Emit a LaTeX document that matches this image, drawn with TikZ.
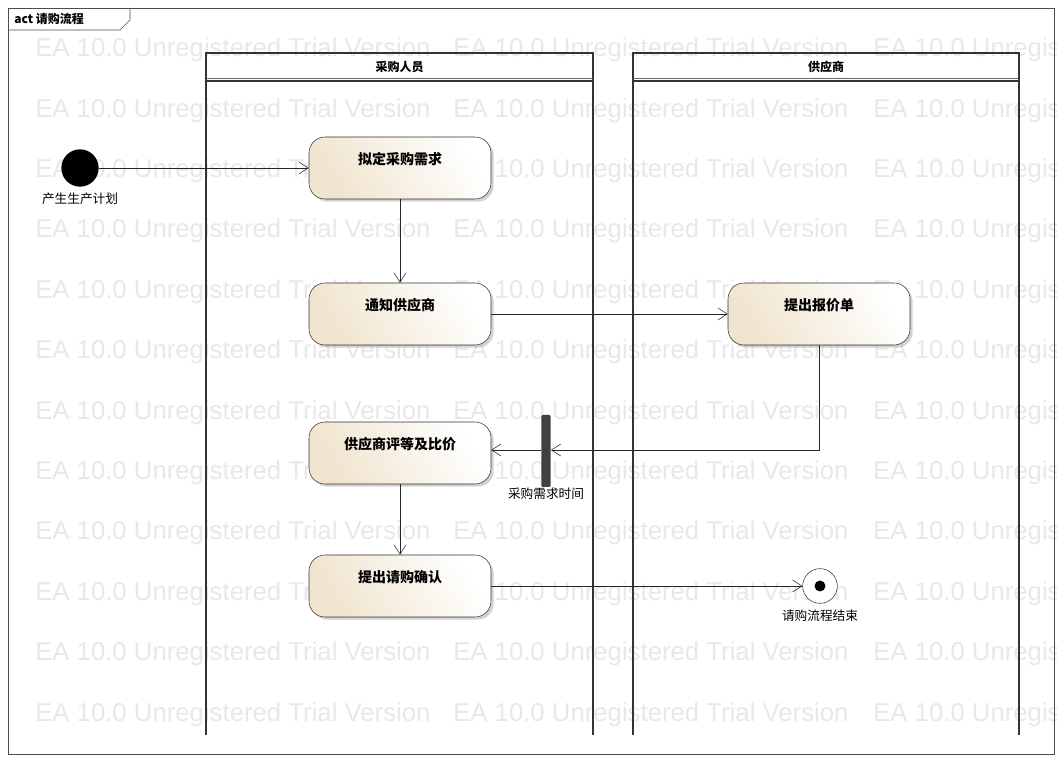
\documentclass[tikz,border=0pt]{standalone}
\usepackage{fontspec}
\setmainfont{Liberation Sans}
\newfontfamily\cjk{Noto Sans CJK SC}
\usetikzlibrary{arrows.meta,shadows}
\definecolor{actfill}{RGB}{240,228,206}
\definecolor{wm}{RGB}{232,232,232}
\tikzset{
 act/.style={draw=black!80,rounded corners=12pt,minimum width=136.5pt,minimum height=46.5pt,
   top color=white,bottom color=actfill,shading angle=-60,
   drop shadow={shadow xshift=2pt,shadow yshift=-2pt,fill=black!35},
   font=\cjk\bfseries\fontsize{10.5}{12}\selectfont,text depth=14pt},
 flow/.style={draw=black!85,-{Straight Barb[length=7pt,width=9pt]}},
 lbl/.style={font=\cjk\fontsize{9.5}{11}\selectfont},
 wmk/.style={text=wm,font=\fontsize{19.3}{19}\selectfont,anchor=west,inner sep=0}
}
\begin{document}
\begin{tikzpicture}[x=0.75pt,y=-0.75pt]
\useasboundingbox (0,0) rectangle (1061,762);
\fill[white] (0,0) rectangle (1061,762);
% watermark
\begin{scope}
\clip (0,0) rectangle (1056,762);
\foreach \r in {0,...,11}{
 \foreach \c in {35,453,873}{
  \node[wmk] at (\c,{50+60.4*\r}) {EA 10.0 Unregistered Trial Version};
 }}
\end{scope}
% frame
\draw[black!70] (8,8) rectangle (1054,754);
\draw[black!70] (8,30) -- (120,30) -- (130,20) -- (130,8);
\node[anchor=west,font=\cjk\bfseries\small,inner sep=0] at (14,19) {act 请购流程};
% lanes
\foreach \a/\b/\t in {206/593/采购人员,633/1019/供应商}{
 \draw[black!80,line width=1.2pt] (\a,735) -- (\a,53) -- (\b,53) -- (\b,735);
 \draw[black!80,line width=1.2pt] (\a,81) -- (\b,81);
 \draw[black!60] (\a,78) -- (\b,78);
 \node[font=\cjk\bfseries\small] at ({(\a+\b)/2},67) {\t};
}
% nodes
\node[circle,fill=black,minimum size=28pt,inner sep=0] (init) at (80,168) {};
\node[lbl] at (80,199) {产生生产计划};
\node[act] (a1) at (400,168) {拟定采购需求};
\node[act] (a2) at (400,314) {通知供应商};
\node[act] (a3) at (819,314) {提出报价单};
\node[act] (a4) at (400,453) {供应商评等及比价};
\node[act] (a5) at (400,586) {提出请购确认};
\node[fill=black!75,minimum width=7pt,minimum height=54pt,inner sep=0,rounded corners=1pt] (bar) at (546,451) {};
\node[lbl] at (546,494) {采购需求时间};
\node[circle,draw=black!80,fill=white,minimum size=26pt,inner sep=0] (fin) at (820,586) {};
\fill (820,586) circle (5.5);
\node[lbl] at (820,616) {请购流程结束};
% connectors
\draw[flow] (init) -- (a1);
\draw[flow] (a1) -- (a2);
\draw[flow] (a2) -- (a3);
\draw[flow] (a3.south) |- (bar.east |- 0,450);
\draw[flow] (bar.west |- 0,450) -- (a4.east |- 0,450);
\draw[flow] (a4) -- (a5);
\draw[flow] (a5) -- (fin);
\end{tikzpicture}
\end{document}
